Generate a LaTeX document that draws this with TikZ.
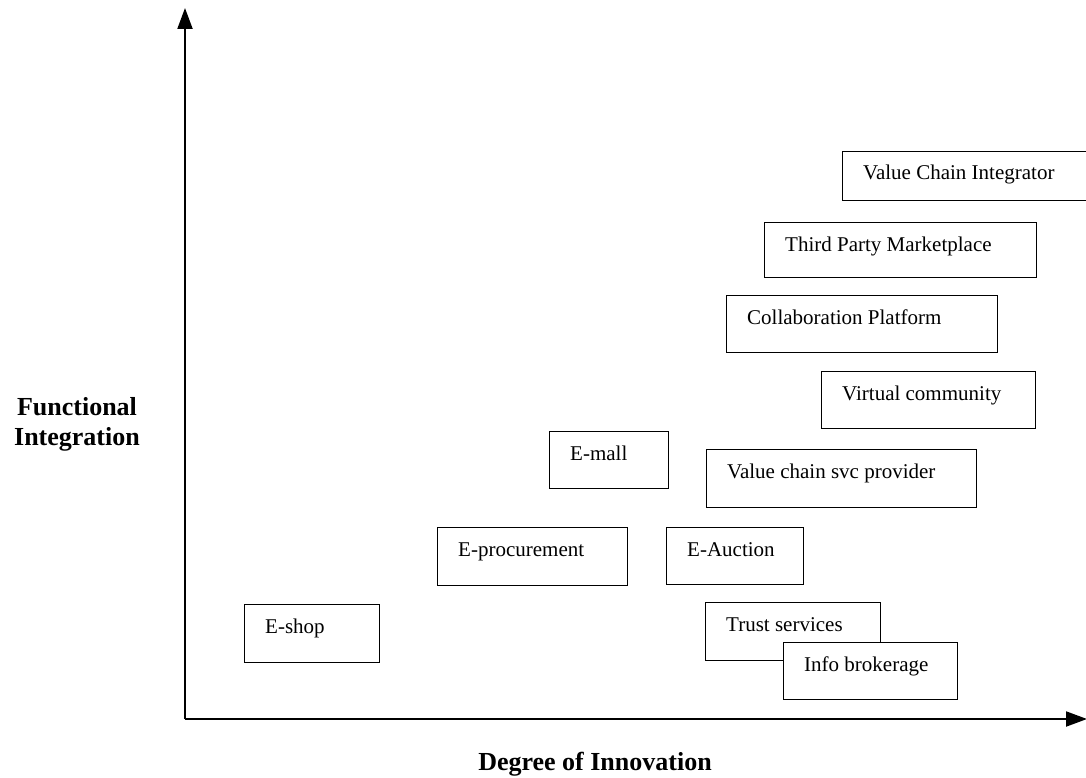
\documentclass[tikz,border=0pt]{standalone}
\usepackage{fontspec}
\setmainfont{Liberation Serif}
\usetikzlibrary{arrows.meta}

\tikzset{
  x=1pt, y=-1pt,
  axis/.style={line width=2pt, -{Triangle[width=15pt,length=21pt]}},
  modelbox/.style={draw, line width=1.4pt, fill=white, inner sep=0pt},
  modeltext/.style={anchor=base west, inner sep=0pt, font=\fontsize{21}{25}\selectfont},
  axislabel/.style={inner sep=0pt, font=\fontsize{26}{30}\selectfont\bfseries, align=center},
}

% box from (x1,y1) to (x2,y2) with its caption set 21 right and 29 below the top left corner
\newcommand{\modelbox}[6]{%
  \node[modelbox, anchor=north west, minimum width=#4-#2, minimum height=#5-#3] (#1) at (#2,#3) {};
  \node[modeltext] (#1-t) at ([xshift=21pt,yshift=-29pt]#1.north west) {#6};
}

\begin{document}
\begin{tikzpicture}
\useasboundingbox (0,0) rectangle (1086,778);

% axes
\coordinate (origin) at (185,719);
\coordinate (ytip) at (185,8);
\coordinate (xtip) at (1087,719);
\draw[axis] (origin) -- (ytip);
\draw[axis] (origin) -- (xtip);

% axis titles
\node[axislabel, anchor=base] (ylab) at (77,445) {Functional\\Integration};
\node[axislabel, anchor=base] (xlab) at (595,770) {Degree of Innovation};

% business models
\modelbox{vci}{842}{151}{1096}{200}{Value Chain Integrator}
\modelbox{tpm}{764}{222}{1036}{277}{Third Party Marketplace}
\modelbox{collab}{726}{295}{997}{352}{Collaboration Platform}
\modelbox{virt}{821}{371}{1035}{428}{Virtual community}
\modelbox{emall}{549}{431}{668}{488}{E-mall}
\modelbox{vcsp}{706}{449}{976}{507}{Value chain svc provider}
\modelbox{eproc}{437}{527}{627}{585}{E-procurement}
\modelbox{eauct}{666}{527}{803}{584}{E-Auction}
\modelbox{eshop}{244}{604}{379}{662}{E-shop}
\modelbox{trust}{705}{602}{880}{660}{Trust services}
\modelbox{info}{783}{642}{957}{699}{Info brokerage}
\end{tikzpicture}
\end{document}
